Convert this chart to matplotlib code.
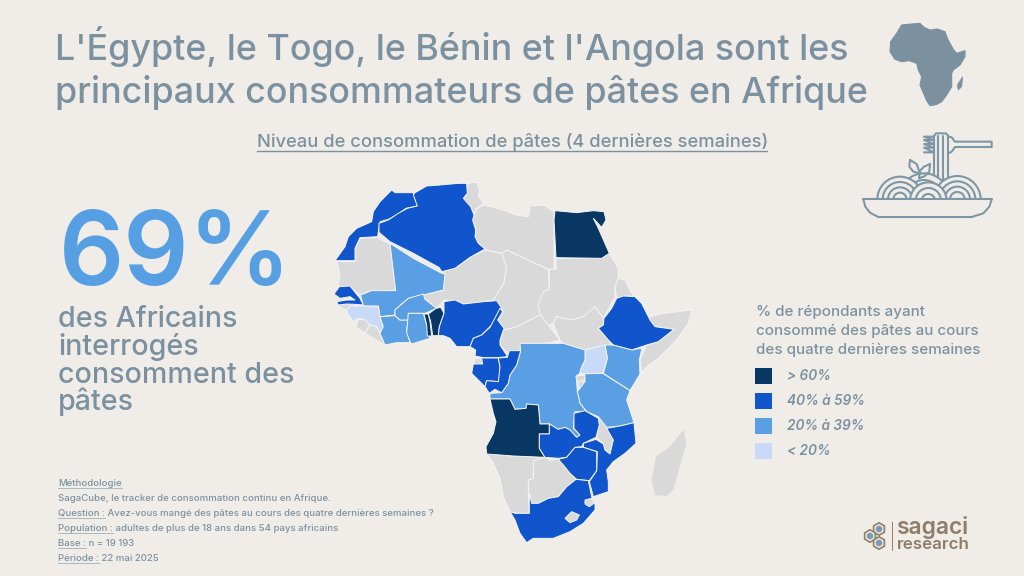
import numpy as np
import matplotlib
matplotlib.use("Agg")
import matplotlib.pyplot as plt
from matplotlib.patches import Polygon, Rectangle, Arc, Circle, RegularPolygon, Wedge

BG = "#f0ede9"; TXT = "#7b919f"; GRAY = "#d9d9d9"; BROWN = "#8f7d68"
C60 = "#083763"; C40 = "#1155cc"; C20 = "#5a9fe4"; C0 = "#c9daf8"
FONT = "Inter"

TITLE_LINES = ["L'Égypte, le Togo, le Bénin et l'Angola sont les",
               "principaux consommateurs de pâtes en Afrique"]
SUBTITLE = "Niveau de consommation de pâtes (4 dernières semaines)"
KPI = "69%"
KPI_LINES = ["des Africains", "interrogés", "consomment des", "pâtes"]
LEGEND_TITLE = ["% de répondants ayant", "consommé des pâtes au cours",
                "des quatre dernières semaines"]
LEGEND_LABELS = ["> 60%", "40% à 59%", "20% à 39%", "< 20%"]
LEGEND_COLORS = [C60, C40, C20, C0]
METHOD = [("Méthodologie", ""),
          ("", "SagaCube, le tracker de consommation continu en Afrique."),
          ("Question :", " Avez-vous mangé des pâtes au cours des quatre dernières semaines ?"),
          ("Population :", " adultes de plus de 18 ans dans 54 pays africains"),
          ("Base :", " n = 19 193"),
          ("Période :", " 22 mai 2025")]

# Country outlines, northern sheet (map units)
MOROCCO = [(15,272),(45,230),(55,200),(80,175),(125,155),(130,125),(150,95),(185,60),(195,68),(250,68),(262,108),(228,115),(200,135),(175,148),(150,155),(145,185),(143,200),(90,203),(75,235),(75,272)]
ALGERIA = [(255,68),(290,48),(330,45),(385,40),(410,40),(412,70),(400,85),(422,110),(432,135),(428,150),(437,180),(435,200),(445,220),(465,237),(420,262),(375,295),(335,305),(328,293),(250,250),(180,215),(147,187),(147,160),(175,150),(205,130),(232,115),(262,108),(250,75)]
MAURITANIA = [(20,275),(75,275),(75,235),(90,205),(143,203),(180,222),(197,362),(125,362),(100,370),(90,375),(60,350),(25,350),(30,310)]
MALI = [(180,220),(250,265),(335,310),(345,312),(340,360),(280,375),(235,385),(212,405),(195,420),(195,435),(150,440),(145,408),(100,408),(92,375),(125,362),(197,362)]
SENEGAL = [(12,372),(28,350),(60,348),(90,385),(100,405),(75,403),(50,402),(25,405),(20,395),(50,390),(75,390),(60,380),(30,385)]
GAMBIA_BISSAU = [(20,395),(75,390),(75,403),(60,408),(50,420),(28,410)]
GUINEA = [(50,420),(60,408),(100,408),(145,410),(150,440),(160,470),(150,490),(140,470),(120,465),(105,450),(85,445),(70,455),(55,435)]
SIERRA_LEONE = [(78,470),(85,448),(105,448),(120,465),(105,490)]
LIBERIA = [(105,490),(120,465),(140,470),(150,490),(165,525),(130,505)]
IVORY_COAST = [(150,440),(195,437),(210,450),(235,450),(230,480),(240,518),(200,518),(165,525),(150,490),(160,470)]
BURKINA = [(195,420),(212,405),(235,385),(280,372),(285,388),(320,415),(285,430),(235,430),(235,450),(210,450),(195,437)]
GHANA = [(235,430),(280,430),(290,465),(300,505),(245,522),(240,515),(230,488)]
TOGO = [(282,432),(295,432),(300,455),(305,498),(292,498),(290,465)]
BENIN = [(295,432),(318,415),(332,412),(342,430),(328,470),(325,497),(308,497),(302,455)]
NIGER = [(335,305),(375,295),(420,262),(465,240),(515,250),(530,290),(522,340),(490,390),(460,395),(400,402),(375,392),(342,390),(320,415),(285,388),(280,375),(340,360),(345,312)]
NIGERIA = [(325,497),(328,470),(342,430),(342,395),(375,390),(400,402),(460,395),(500,392),(515,415),(500,445),(480,470),(455,495),(430,505),(420,530),(380,530),(360,505),(340,497)]
CAMEROON = [(420,530),(430,505),(455,495),(480,472),(497,440),(510,415),(518,425),(503,450),(522,475),(510,510),(510,525),(533,560),(500,563),(460,563),(435,558),(437,540)]
CAR = [(510,510),(522,480),(560,470),(600,450),(630,432),(655,465),(690,510),(660,518),(590,525),(570,545),(533,550),(510,525)]
CHAD = [(515,250),(530,240),(655,298),(658,360),(635,390),(625,405),(640,430),(600,450),(560,470),(520,480),(503,450),(520,425),(490,390),(522,340),(530,290)]
LIBYA = [(432,135),(440,115),(462,105),(520,120),(560,135),(595,140),(600,108),(640,105),(672,125),(672,298),(655,298),(530,240),(515,250),(470,240),(445,220),(435,200),(437,180),(428,150)]
TUNISIA = [(412,40),(440,37),(450,60),(445,80),(462,100),(440,115),(430,135),(400,85),(412,70)]
EGYPT = [(672,150),(675,122),(740,128),(790,122),(822,125),(828,150),(815,172),(790,145),(805,175),(838,250),(815,265),(678,263)]
SUDAN = [(678,265),(815,265),(838,250),(865,295),(865,325),(855,350),(855,380),(820,445),(795,410),(790,430),(760,440),(725,450),(680,440),(670,460),(655,465),(630,432),(625,405),(640,365),(658,358),(658,298),(678,298)]
ERITREA = [(865,325),(885,330),(905,370),(945,405),(935,400),(900,378),(860,385),(855,350)]
ETHIOPIA = [(860,385),(880,378),(915,380),(935,400),(950,430),(960,450),(975,470),(1032,478),(985,515),(950,525),(905,540),(850,525),(835,510),(805,475),(820,465),(822,445),(845,415)]
SOMALIA = [(945,420),(960,440),(1000,430),(1085,420),(1075,460),(1040,510),(985,565),(950,590),(935,608),(930,570),(950,525),(985,515),(1032,478),(975,470),(960,450)]
SOUTH_SUDAN = [(670,460),(680,440),(725,450),(760,440),(795,410),(820,445),(820,465),(805,475),(835,510),(845,525),(820,540),(765,540),(700,520),(690,512)]

# Country outlines, southern sheet (map units)
KENYA = [(405,-15),(429,-15),(486,0),(516,-6),(508,30),(510,72),(480,122),(400,70),(412,25)]
UGANDA = [(345,0),(405,-15),(412,25),(398,70),(328,72),(335,50),(345,30)]
RWANDA = [(318,78),(345,75),(345,95),(320,95)]
BURUNDI = [(322,97),(345,90),(330,122)]
TANZANIA = [(328,72),(398,70),(480,122),(470,150),(480,180),(492,218),(450,228),(410,232),(385,200),(350,185),(330,160),(322,125),(345,95),(345,75)]
DRC = [(150,-20),(280,-20),(345,0),(345,30),(335,50),(328,72),(318,78),(320,95),(322,125),(330,160),(350,185),(315,185),(310,235),(330,255),(320,262),(300,240),(285,232),(265,238),(238,222),(210,222),(205,165),(170,162),(168,175),(135,178),(120,147),(60,147),(60,130),(95,128),(115,100),(120,75),(140,45),(152,2)]
GABON = [(15,24),(85,24),(90,50),(88,90),(85,95),(50,92),(45,110),(20,85),(5,70),(10,42)]
CONGO = [(85,24),(112,22),(118,2),(152,2),(140,45),(120,75),(115,100),(95,128),(75,118),(58,130),(45,110),(50,92),(85,95),(90,50)]
EQ_GUINEA = [(15,25),(35,25),(38,42),(12,42)]
ANGOLA = [(60,147),(120,147),(135,178),(168,175),(170,162),(205,165),(210,222),(238,222),(238,252),(208,252),(208,295),(225,322),(130,318),(50,312),(48,290),(70,250),(78,215),(70,190)]
ZAMBIA = [(208,252),(238,252),(238,222),(265,238),(285,232),(300,240),(320,262),(330,255),(312,235),(312,190),(345,182),(385,205),(388,225),(378,262),(340,280),(335,290),(315,292),(290,322),(265,325),(225,322),(208,295)]
MALAWI = [(385,200),(405,200),(408,228),(430,270),(420,310),(405,300),(398,280),(380,262),(388,225)]
MOZAMBIQUE = [(410,235),(450,228),(492,218),(498,280),(465,310),(430,335),(410,360),(415,395),(415,425),(370,440),(358,395),(380,362),(382,305),(340,292),(340,280),(378,268),(400,282),(405,300),(420,312),(430,270)]
ZIMBABWE = [(265,328),(290,322),(315,292),(340,292),(380,305),(380,362),(358,392),(320,388),(300,370),(280,345)]
BOTSWANA = [(190,332),(225,322),(240,330),(265,328),(280,345),(300,370),(318,388),(290,410),(265,440),(235,445),(205,460),(185,460),(180,435),(175,430),(175,390),(190,385)]
NAMIBIA = [(50,312),(130,318),(225,322),(190,332),(190,385),(175,390),(175,430),(178,490),(135,490),(120,485),(100,440),(90,385),(70,340)]
SOUTH_AFRICA = [(120,485),(135,490),(178,490),(178,430),(185,460),(205,460),(235,445),(265,440),(290,410),(318,388),(355,392),(365,440),(375,462),(375,480),(340,520),(300,545),(250,565),(190,565),(170,578),(150,550),(135,510)]
ESWATINI = [(345,450),(365,445),(372,460),(358,470),(345,462)]
LESOTHO = [(285,505),(305,485),(328,495),(320,510),(300,518)]
MADAGASCAR = [(640,240),(650,280),(635,330),(610,420),(590,438),(555,435),(545,390),(558,320),(600,290)]

NORTH = [(MAURITANIA,GRAY),(GAMBIA_BISSAU,GRAY),(SIERRA_LEONE,GRAY),(LIBERIA,GRAY),(NIGER,GRAY),(CAR,GRAY),(CHAD,GRAY),
         (LIBYA,GRAY),(TUNISIA,GRAY),(SUDAN,GRAY),(ERITREA,GRAY),(SOMALIA,GRAY),(SOUTH_SUDAN,GRAY),
         (MOROCCO,C40),(ALGERIA,C40),(MALI,C20),(SENEGAL,C40),(GUINEA,C0),(IVORY_COAST,C20),(BURKINA,C20),(GHANA,C20),
         (TOGO,C60),(BENIN,C60),(NIGERIA,C40),(CAMEROON,C40),(EGYPT,C60),(ETHIOPIA,C40)]
SOUTH = [(RWANDA,GRAY),(BURUNDI,GRAY),(MALAWI,GRAY),(BOTSWANA,GRAY),(NAMIBIA,GRAY),
         (KENYA,C20),(UGANDA,C0),(TANZANIA,C20),(DRC,C20),(GABON,C40),(EQ_GUINEA,GRAY),(CONGO,C40),(ANGOLA,C60),(ZAMBIA,C40),
         (MOZAMBIQUE,C40),(ZIMBABWE,C40),(SOUTH_AFRICA,C40),(ESWATINI,GRAY),(LESOTHO,GRAY)]

ICON_AFRICA = [(155,45),(185,42),(210,40),(222,52),(240,60),(262,57),(285,65),(292,85),(300,100),(310,118),(320,130),(345,122),(345,140),(330,165),(310,180),(305,190),(305,230),(290,255),(275,275),(258,284),(240,287),(230,272),(225,260),(210,225),(215,200),(205,180),(200,160),(178,152),(155,155),(135,148),(120,125),(122,95),(140,70)]
ICON_MADAGASCAR = [(338,200),(335,230),(325,240),(322,225)]

fig = plt.figure(figsize=(10.24, 5.76), dpi=100, facecolor=BG)
ax = fig.add_axes([0, 0, 1, 1])
ax.set_xlim(0, 1024); ax.set_ylim(576, 0); ax.axis("off")

def sheet(pts, ox, oy):
    return [(ox + x / 3, oy + y / 3) for x, y in pts]

for pts, col in NORTH:
    ax.add_patch(Polygon(sheet(pts, 330, 170), closed=True, fc=col, ec="#f4f4f4", lw=0.7, joinstyle="round", zorder=2))
for pts, col in SOUTH:
    ax.add_patch(Polygon(sheet(pts, 470, 350), closed=True, fc=col, ec="#f4f4f4", lw=0.7, joinstyle="round", zorder=3))
ax.add_patch(Polygon(sheet(MADAGASCAR, 470, 350), closed=True, fc=GRAY, ec="none", zorder=3))

def T(x, y, s, size, color=TXT, weight="normal", style="normal", ha="left"):
    return ax.text(x, y, s, fontsize=size, color=color, fontweight=weight, fontstyle=style,
                   ha=ha, va="baseline", family=FONT, zorder=5)

for y, s in zip([60, 103], TITLE_LINES):
    T(55, y, s, 25.8, weight="medium")

T(257, 147, SUBTITLE, 13.2, weight="medium")
ax.plot([257, 767], [150.5, 150.5], color=TXT, lw=1.0, zorder=5)

T(59, 285, KPI, 73.5, color="#569fe3", weight="semibold")
for y, s in zip([327, 355, 383, 410], KPI_LINES):
    T(58, y, s, 20.6, weight="medium")

rend = fig.canvas.get_renderer()
for y, (label, rest) in zip([486, 501, 516, 531, 546, 561], METHOD):
    xx = 58
    if label:
        t = T(xx, y, label, 6.9, weight="medium")
        xe = t.get_window_extent(rend).x1
        ax.plot([xx, xe], [y + 1.5, y + 1.5], color="#a9b8c2", lw=0.7, zorder=5)
        xx = xe
    if rest:
        T(xx, y, rest, 6.9, weight="medium")

for y, s in zip([316, 335, 354], LEGEND_TITLE):
    T(756, y, s, 10.9, weight="medium")
for y, col, lab in zip([368, 393, 418, 443], LEGEND_COLORS, LEGEND_LABELS):
    ax.add_patch(Rectangle((755, y), 16.5, 15.5, fc=col, ec="none", zorder=5))
    T(787, y + 12, lab, 9.8, weight="semibold", style="italic")

# Africa icon
ax.add_patch(Polygon(sheet(ICON_AFRICA, 850, 10), closed=True, fc=TXT, ec=TXT, lw=0.8, joinstyle="round", zorder=5))
ax.add_patch(Polygon(sheet(ICON_MADAGASCAR, 850, 10), closed=True, fc=TXT, ec=TXT, lw=0.5, zorder=5))

# Pasta icon
IC = "#7f97a5"; LW = 1.5
def pline(pts, z=6):
    p = sheet(pts, 850, 10)
    ax.plot([a for a, _ in p], [b for _, b in p], color=IC, lw=LW, solid_capstyle="round", zorder=z)
def mound(cx, cy, radii, z, t1=180, t2=360):
    c = sheet([(cx, cy)], 850, 10)[0]
    ax.add_patch(Wedge(c, max(radii) / 3, t1, t2, fc=BG, ec="none", zorder=z))
    for r in radii:
        ax.add_patch(Arc(c, 2 * r / 3, 2 * r / 3, theta1=t1, theta2=t2, ec=IC, lw=LW, zorder=z + 0.1))
for x in (252, 265, 278, 295):
    pline([(x,525),(x,378)])
pline([(252,378),(258,370),(288,370),(295,378)])
pline([(295,380),(305,382),(315,395),(425,395),(425,411),(315,411),(305,425),(295,430)])
pline([(252,380),(222,380),(252,390),(222,390),(252,402),(222,402),(252,413),(222,413),(252,427),(222,427)])
mound(222, 565, [75, 55], 7)
pline([(180,450),(200,462),(210,490),(190,485),(178,470),(180,450)], 8)
pline([(240,462),(238,485),(225,498),(207,505),(210,482),(222,470),(240,462)], 8)
mound(150, 568, [68, 52, 36, 20], 9)
mound(322, 568, [70, 54, 38, 22], 9)
mound(235, 572, [55, 38, 20], 10)
ax.add_patch(Rectangle((850 + 40 / 3, 10 + 568 / 3), 385 / 3, 54 / 3, fc=BG, ec="none", zorder=11))
pline([(40,568),(425,568)], 12)
pline([(40,568),(46,590),(60,608),(85,621),(365,621),(400,610),(418,590),(425,568)], 12)

# Logo
for cx, cy in [(879,529),(870,536),(879,543)]:
    ax.add_patch(RegularPolygon((cx, cy), 6, radius=6.2, fc=BG, ec=BROWN, lw=1.2, zorder=6))
    ax.add_patch(Circle((cx, cy), 3.3, fc="#7a9bb0", ec="none", zorder=7))
ax.plot([892, 892], [522, 550], color=BROWN, lw=0.7, zorder=6)
T(897, 534, "sagaci", 16.4, color=BROWN, weight="semibold")
T(897, 549, "research", 12.2, color=BROWN, weight="semibold")

fig.savefig("out.png", dpi=100, facecolor=BG)
